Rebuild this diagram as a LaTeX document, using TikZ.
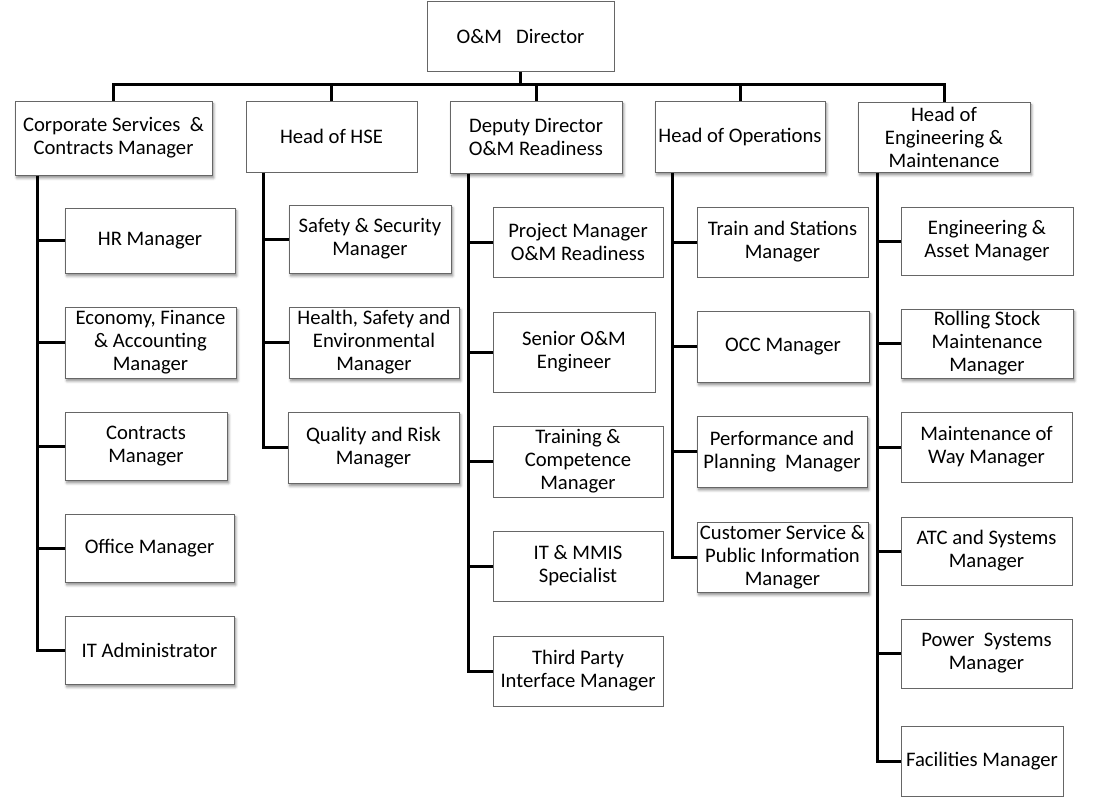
\documentclass[tikz,border=0pt]{standalone}
\usepackage{fontspec}
\setmainfont{Carlito}
\usetikzlibrary{shadows.blur}
\tikzset{
  box/.style={draw=black!60, line width=0.75pt, fill=white, inner sep=0pt, align=center,
    font=\fontsize{15.5}{17.3}\selectfont, text=black},
  sh/.style={blur shadow={shadow xshift=1.3pt, shadow yshift=-2.2pt, shadow blur radius=2pt, shadow opacity=45}},
  conn/.style={line width=2.25pt, black}
}
\newcommand\obox[7][]{%
  \node[box,#1,minimum width={(#5-#3)*0.75pt},minimum height={(#6-#4)*0.75pt}] (#2) at ({(#3+#5)/2},{(#4+#6)/2}) {#7};}
\begin{document}
\begin{tikzpicture}[x=0.75pt,y=-0.75pt]
\useasboundingbox (0,0) rectangle (1101,797);
% top
\obox{dir}{427}{1}{614}{71}{O\&M\ \ \ Director}
% level 2
\obox[sh]{corp}{15}{101}{212}{175}{Corporate Services\ \ \&\\Contracts Manager}
\obox{hse}{246}{101}{417}{172}{Head of HSE}
\obox[sh]{dep}{450}{101}{622}{173}{Deputy Director\\O\&M Readiness}
\obox[sh]{ops}{655}{101}{825}{172}{Head of Operations}
\obox[sh]{eng}{858}{102}{1030}{172}{Head of\\Engineering \&\\Maintenance}
% column 1
\obox[sh]{hr}{65}{208}{235}{273}{HR Manager}
\obox[sh]{econ}{65}{307}{236}{378}{Economy, Finance\\\& Accounting\\Manager}
\obox[sh]{contr}{65}{412}{227}{480}{Contracts\\Manager}
\obox[sh]{office}{65}{514}{234}{582}{Office Manager}
\obox[sh]{itadm}{65}{616}{234}{684}{IT Administrator}
% column 2
\obox[sh]{ss}{289}{205}{451}{273}{Safety \& Security\\Manager}
\obox[sh]{hsem}{289}{307}{459}{378}{Health, Safety and\\Environmental\\Manager}
\obox[sh]{qr}{288}{412}{459}{483}{Quality and Risk\\Manager}
% column 3
\obox{pm}{493}{207}{663}{277}{Project Manager\\O\&M Readiness}
\obox{sen}{493}{312}{655}{392}{Senior O\&M\\Engineer}
\obox{train}{493}{426}{663}{497}{Training \&\\Competence\\Manager}
\obox{mmis}{493}{531}{663}{601}{IT \& MMIS\\Specialist}
\obox{third}{493}{636}{663}{706}{Third Party\\Interface Manager}
% column 4
\obox{ts}{697}{207}{868}{277}{Train and Stations\\Manager}
\obox[sh]{occ}{697}{311}{869}{382}{OCC Manager}
\obox[sh]{perf}{697}{416}{867}{487}{Performance and\\Planning\ \ Manager}
\obox[sh]{cust}{697}{522}{868}{592}{Customer Service \&\\Public Information\\Manager}
% column 5
\obox{ea}{901}{207}{1073}{275}{Engineering \&\\Asset Manager}
\obox[sh]{rs}{901}{309}{1073}{378}{Rolling Stock\\Maintenance\\Manager}
\obox{mow}{901}{412}{1072}{482}{Maintenance of\\Way Manager}
\obox{atc}{901}{517}{1072}{585}{ATC and Systems\\Manager}
\obox{pow}{901}{619}{1072}{688}{Power\ \ Systems\\Manager}
\obox{fac}{901}{726}{1063}{796}{Facilities Manager}
% coordinates
\coordinate (bus) at (0,84);
\coordinate (t1) at (37,0);
\coordinate (t2) at (263,0);
\coordinate (t3) at (468,0);
\coordinate (t4) at (672,0);
\coordinate (t5) at (877,0);
% bus
\draw[conn] (corp.north) -- (corp.north |- bus) -- (eng.north |- bus) -- (eng.north);
\draw[conn] (dir.south) -- (dir.south |- bus);
\draw[conn] (hse.north) -- (hse.north |- bus);
\draw[conn] (dep.north) -- (dep.north |- bus);
\draw[conn] (ops.north) -- (ops.north |- bus);
% trunks
\draw[conn] (corp.south -| t1) |- (itadm.west);
\foreach \n in {hr,econ,contr,office} \draw[conn] (t1 |- \n.west) -- (\n.west);
\draw[conn] (hse.south -| t2) |- (qr.west);
\foreach \n in {ss,hsem} \draw[conn] (t2 |- \n.west) -- (\n.west);
\draw[conn] (dep.south -| t3) |- (third.west);
\foreach \n in {pm,sen,train,mmis} \draw[conn] (t3 |- \n.west) -- (\n.west);
\draw[conn] (ops.south -| t4) |- (cust.west);
\foreach \n in {ts,occ,perf} \draw[conn] (t4 |- \n.west) -- (\n.west);
\draw[conn] (eng.south -| t5) |- (fac.west);
\foreach \n in {ea,rs,mow,atc,pow} \draw[conn] (t5 |- \n.west) -- (\n.west);
\end{tikzpicture}
\end{document}
